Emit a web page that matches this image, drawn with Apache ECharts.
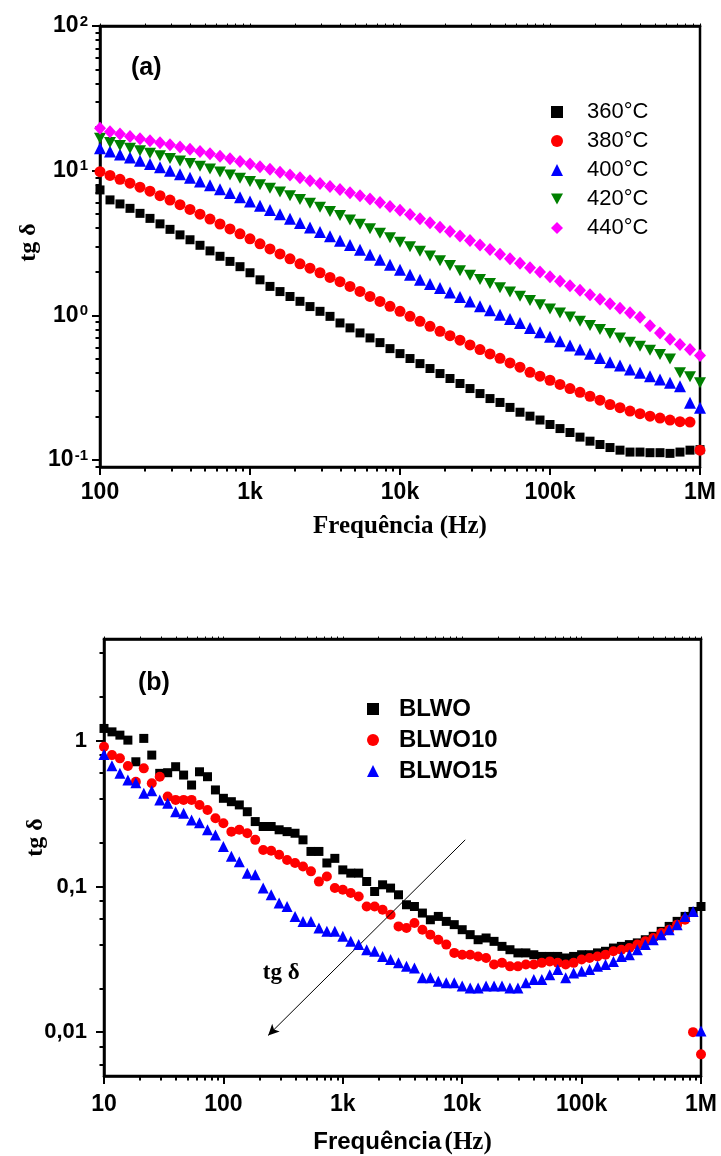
<!DOCTYPE html>
<html><head><meta charset="utf-8">
<script src="https://cdn.jsdelivr.net/npm/echarts@6/dist/echarts.min.js"></script>
<style>html,body{margin:0;padding:0;background:#fff}#c{width:721px;height:1156px}</style>
</head><body><div id="c"></div>
<script>
// ---------- DATA: panel (a) ----------
const freqA = [100, 116.6, 135.9, 158.5, 184.8, 215.4, 251.2, 292.9, 341.5, 398.1, 464.2, 541.2, 631.0, 735.6, 857.7,
  1000, 1166, 1359, 1585, 1848, 2154, 2512, 2929, 3415, 3981, 4642, 5412, 6310, 7356, 8577,
  10000, 11660, 13590, 15850, 18480, 21540, 25120, 29290, 34150, 39810, 46420, 54120, 63100, 73560, 85770,
  100000, 116600, 135900, 158500, 184800, 215400, 251200, 292900, 341500, 398100, 464200, 541200, 631000, 735600, 857700,
  1000000];
const t360 = [7.36, 6.28, 5.89, 5.49, 5.07, 4.68, 4.29, 3.93, 3.60, 3.33, 3.05, 2.79, 2.56, 2.36, 2.17, 1.97, 1.76, 1.585, 1.46, 1.35,
  1.25, 1.15, 1.066, 0.984, 0.886, 0.819, 0.756, 0.698, 0.648, 0.589, 0.544, 0.503, 0.464, 0.429, 0.396, 0.366, 0.338, 0.312, 0.288, 0.266,
  0.250, 0.231, 0.214, 0.201, 0.189, 0.176, 0.165, 0.155, 0.144, 0.135, 0.128, 0.122, 0.117, 0.1135, 0.1135, 0.1124, 0.1124, 0.1112, 0.1135, 0.117, 0.118];
const t380 = [9.84, 9.27, 8.72, 8.20, 7.69, 7.21, 6.72, 6.26, 5.82, 5.40, 5.00, 4.63, 4.28, 3.96, 3.66, 3.38, 3.12, 2.88, 2.66, 2.46,
  2.27, 2.12, 1.97, 1.83, 1.71, 1.585, 1.464, 1.352, 1.249, 1.154, 1.066, 0.984, 0.909, 0.840, 0.776, 0.724, 0.673, 0.625, 0.580, 0.541,
  0.505, 0.469, 0.438, 0.404, 0.380, 0.356, 0.333, 0.312, 0.294, 0.276, 0.259, 0.242, 0.230, 0.218, 0.209, 0.201, 0.195, 0.189, 0.184, 0.183, 0.117];
const t400 = [14.27, 13.57, 12.93, 12.33, 11.72, 11.12, 10.55, 10.0, 9.46, 8.93, 8.42, 7.93, 7.45, 7.00, 6.55, 6.13, 5.73, 5.35, 4.99, 4.65,
  4.34, 4.05, 3.77, 3.52, 3.28, 3.06, 2.84, 2.62, 2.42, 2.24, 2.07, 1.91, 1.76, 1.65, 1.545, 1.441, 1.339, 1.249, 1.154, 1.083,
  1.011, 0.944, 0.886, 0.819, 0.763, 0.710, 0.662, 0.618, 0.580, 0.542, 0.508, 0.474, 0.450, 0.422, 0.401, 0.380, 0.360, 0.342, 0.324, 0.249, 0.230];
const t420 = [16.73, 15.65, 14.92, 14.30, 13.72, 13.18, 12.67, 12.16, 11.67, 11.19, 10.72, 10.26, 9.80, 9.34, 8.88, 8.42, 7.98, 7.55, 7.13, 6.72,
  6.33, 5.95, 5.58, 5.23, 4.90, 4.57, 4.26, 3.97, 3.69, 3.44, 3.20, 2.98, 2.77, 2.57, 2.38, 2.21, 2.03, 1.89, 1.77, 1.66,
  1.55, 1.45, 1.357, 1.269, 1.185, 1.107, 1.039, 0.975, 0.912, 0.852, 0.797, 0.748, 0.698, 0.651, 0.611, 0.574, 0.536, 0.499, 0.401, 0.376, 0.342];
const t440 = [19.61, 18.58, 17.92, 17.22, 16.62, 16.08, 15.57, 15.09, 14.59, 14.09, 13.59, 13.08, 12.57, 12.08, 11.59, 11.12, 10.66, 10.21, 9.77, 9.34,
  8.93, 8.53, 8.15, 7.77, 7.41, 7.05, 6.71, 6.36, 6.02, 5.66, 5.32, 4.98, 4.66, 4.36, 4.07, 3.80, 3.53, 3.29, 3.06, 2.85,
  2.64, 2.46, 2.29, 2.13, 1.99, 1.85, 1.72, 1.60, 1.49, 1.39, 1.293, 1.204, 1.121, 1.044, 0.972, 0.849, 0.754, 0.685, 0.628, 0.580, 0.527];
const namesA = ['360°C', '380°C', '400°C', '420°C', '440°C'];
const xTickValsA = [100, 1000, 10000, 100000, 1000000];
const xTickLabelsA = ['100', '1k', '10k', '100k', '1M'];
const yTickValsA = [0.1, 1, 10, 100];
const yTickExpA = ['-1', '0', '1', '2'];

// ---------- DATA: panel (b) ----------
const freqB = [10, 11.66, 13.59, 15.85, 18.48, 21.54, 25.12, 29.29, 34.15, 39.81, 46.42, 54.12, 63.10, 73.56, 85.77,
  100, 116.6, 135.9, 158.5, 184.8, 215.4, 251.2, 292.9, 341.5, 398.1, 464.2, 541.2, 631.0, 735.6, 857.7,
  1000, 1166, 1359, 1585, 1848, 2154, 2512, 2929, 3415, 3981, 4642, 5412, 6310, 7356, 8577,
  10000, 11660, 13590, 15850, 18480, 21540, 25120, 29290, 34150, 39810, 46420, 54120, 63100, 73560, 85770,
  100000, 116600, 135900, 158500, 184800, 215400, 251200, 292900, 341500, 398100, 464200, 541200, 631000, 735600, 857700,
  1000000];
const blwo = [1.216, 1.152, 1.094, 1.011, 0.718, 1.039, 0.798, 0.598, 0.604, 0.664, 0.582, 0.497, 0.613, 0.567, 0.460, 0.403, 0.382, 0.363, 0.326, 0.279,
  0.258, 0.258, 0.245, 0.238, 0.232, 0.209, 0.174, 0.174, 0.145, 0.156, 0.130, 0.1235, 0.1235, 0.1082, 0.0924, 0.1027, 0.0975, 0.0877, 0.0749, 0.0729,
  0.0657, 0.0591, 0.0623, 0.0576, 0.0547, 0.0505, 0.0467, 0.0431, 0.0443, 0.0420, 0.0388, 0.0368, 0.0350, 0.0350, 0.0340, 0.0331, 0.0331, 0.0331, 0.0323, 0.0331,
  0.0340, 0.0340, 0.0350, 0.0359, 0.0378, 0.0388, 0.0399, 0.0410, 0.0431, 0.0455, 0.0492, 0.0532, 0.0576, 0.0623, 0.0674, 0.0729];
const blwo10 = [0.910, 0.798, 0.758, 0.671, 0.524, 0.647, 0.511, 0.567, 0.414, 0.393, 0.393, 0.393, 0.363, 0.335, 0.294, 0.272, 0.238, 0.245, 0.232, 0.209,
  0.178, 0.176, 0.165, 0.152, 0.145, 0.137, 0.127, 0.108, 0.117, 0.0975, 0.0949, 0.0901, 0.0854, 0.0729, 0.0729, 0.0692, 0.0640, 0.0532, 0.0519, 0.0562,
  0.0505, 0.0467, 0.0431, 0.0399, 0.0350, 0.0340, 0.0340, 0.0331, 0.0323, 0.0291, 0.0299, 0.0283, 0.0283, 0.0291, 0.0291, 0.0299, 0.0306, 0.0299, 0.0291, 0.0299,
  0.0315, 0.0323, 0.0331, 0.0340, 0.0359, 0.0368, 0.0378, 0.0399, 0.0420, 0.0443, 0.0480, 0.0505, 0.0547, 0.0591, 0.0100, 0.00704];
const blwo15 = [0.807, 0.674, 0.598, 0.538, 0.516, 0.436, 0.454, 0.393, 0.373, 0.326, 0.318, 0.286, 0.274, 0.245, 0.226, 0.188, 0.161, 0.148, 0.1235, 0.1202,
  0.0975, 0.0877, 0.0770, 0.0729, 0.0623, 0.0576, 0.0576, 0.0519, 0.0492, 0.0492, 0.0455, 0.0420, 0.0399, 0.0368, 0.0359, 0.0331, 0.0315, 0.0299, 0.0283, 0.0276,
  0.0236, 0.0236, 0.0224, 0.0218, 0.0218, 0.0207, 0.0201, 0.0201, 0.0207, 0.0207, 0.0207, 0.0201, 0.0201, 0.0218, 0.0230, 0.0230, 0.0248, 0.0269, 0.0236, 0.0255,
  0.0262, 0.0269, 0.0283, 0.0291, 0.0306, 0.0331, 0.0340, 0.0368, 0.0399, 0.0431, 0.0467, 0.0505, 0.0547, 0.0623, 0.0674, 0.0102];
const namesB = ['BLWO', 'BLWO10', 'BLWO15'];
const xTickValsB = [10, 100, 1000, 10000, 100000, 1000000];
const xTickLabelsB = ['10', '100', '1k', '10k', '100k', '1M'];
const yTickValsB = [0.01, 0.1, 1];
const yTickLabelsB = ['0,01', '0,1', '1'];

// annotation in panel (b): arrow and its label (data coordinates)
const arrowFrom = [10600, 0.209];
const arrowTo = [237, 0.0095];
const arrowTextPos = [305, 0.0256];
const arrowText = 'tg δ';

// ---------- helpers ----------
const SANS = '"Liberation Sans", Arial, sans-serif';
const SERIF = '"Liberation Serif", "Times New Roman", serif';
function minorTicks(dLo, dHi, mults, lo, hi) {
  const out = [];
  for (let d = dLo; d < dHi; d++) for (const m of mults) {
    const v = +(m * Math.pow(10, d)).toPrecision(6);
    if (v > lo && v < hi) out.push(v);
  }
  return out;
}
function idxOf(vals, v) {
  let best = 0, bd = Infinity;
  vals.forEach((t, i) => { const d = Math.abs(Math.log10(t) - Math.log10(v)); if (d < bd) { bd = d; best = i; } });
  return best;
}
const zip = (xs, ys) => xs.map((x, i) => [x, ys[i]]);

const yMinA = 0.0895, yMaxA = 100, xMinA = 100, xMaxA = 1000000;
const yMinB = 0.005, yMaxB = 5, xMinB = 10, xMaxB = 1000000;
const M9 = [2, 3, 4, 5, 6, 7, 8, 9];

function mainX(gi, min, max, vals, labels, name, nameGap, margin, nameStyle) {
  return {
    type: 'log', logBase: 10, gridIndex: gi, min, max, position: 'bottom',
    axisLine: { show: true, onZero: false, lineStyle: { color: '#000', width: 2.5 } },
    axisTick: { show: true, inside: false, length: 8, customValues: vals, lineStyle: { color: '#000', width: 2 } },
    axisLabel: { show: true, customValues: vals, margin, color: '#000', fontSize: 23, fontWeight: 'bold', fontFamily: SANS,
      formatter: v => labels[idxOf(vals, v)] },
    splitLine: { show: false }, minorTick: { show: false },
    name, nameLocation: 'middle', nameGap, nameMoveOverlap: false, nameTextStyle: nameStyle
  };
}
function minorAxis(gi, min, max, vals, pos, len, width) {
  return {
    type: 'log', logBase: 10, gridIndex: gi, min, max, position: pos,
    axisLine: { show: pos === 'top', onZero: false, lineStyle: { color: '#000', width: 2.5 } },
    axisTick: { show: true, inside: false, length: len, customValues: vals, lineStyle: { color: '#000', width } },
    axisLabel: { show: false }, splitLine: { show: false }, minorTick: { show: false }
  };
}

const minorXA = minorTicks(2, 6, M9, xMinA, xMaxA);
const minorYA = minorTicks(-2, 2, M9, yMinA, yMaxA);
const minorXB = minorTicks(1, 6, M9, xMinB, xMaxB);
const minorYB = minorTicks(-3, 1, [2, 4, 6, 8], yMinB, yMaxB);

const symA = ['rect', 'circle', 'triangle', 'path://M0,0 L10,0 L5,9 Z', 'diamond'];
const colA = ['#000000', '#ff0000', '#0000ff', '#008000', '#ff00ff'];
const sizeA = [9, 11, 12, [12, 11], [12, 13]];
const valsA = [t360, t380, t400, t420, t440];
const symB = ['rect', 'circle', 'triangle'];
const colB = ['#000000', '#ff0000', '#0000ff'];
const sizeB = [9, 10, 11];
const valsB = [blwo, blwo10, blwo15];

const series = [];
valsA.forEach((vals, i) => series.push({
  type: 'scatter', name: namesA[i], xAxisIndex: 0, yAxisIndex: 0,
  data: zip(freqA, vals), symbol: symA[i], symbolSize: sizeA[i],
  itemStyle: { color: colA[i], opacity: 1 }, z: 3 + i, silent: true
}));
valsB.forEach((vals, i) => {
  const s = {
    type: 'scatter', name: namesB[i], xAxisIndex: 3, yAxisIndex: 2,
    data: zip(freqB, vals), symbol: symB[i], symbolSize: sizeB[i],
    itemStyle: { color: colB[i], opacity: 1 }, z: 3 + i, silent: true
  };
  if (i === 2) {
    s.markLine = {
      silent: true, symbol: ['none', 'arrow'], symbolSize: [8, 11], animation: false,
      lineStyle: { color: '#000', width: 1, type: 'solid' }, label: { show: false },
      data: [[{ coord: arrowFrom }, { coord: arrowTo }]]
    };
    s.markPoint = {
      silent: true, symbol: 'rect', symbolSize: 0, animation: false,
      label: { show: true, position: 'inside', formatter: arrowText, color: '#000', fontSize: 23, fontWeight: 'bold', fontFamily: SERIF },
      data: [{ coord: arrowTextPos }]
    };
  }
  series.push(s);
});

const option = {
  animation: false,
  backgroundColor: '#ffffff',
  grid: [
    { left: 100, top: 26, width: 600, height: 441, show: true, borderColor: '#000', borderWidth: 2.5, backgroundColor: 'transparent', containLabel: false, outerBoundsMode: 'none' },
    { left: 104, top: 639, width: 597, height: 437, show: true, borderColor: '#000', borderWidth: 2.5, backgroundColor: 'transparent', containLabel: false, outerBoundsMode: 'none' }
  ],
  xAxis: [
    mainX(0, xMinA, xMaxA, xTickValsA, xTickLabelsA, 'Frequência (Hz)', 47, 14,
      { color: '#000', fontSize: 25, fontWeight: 'bold', fontFamily: SERIF }),
    minorAxis(0, xMinA, xMaxA, minorXA, 'bottom', 4.5, 2),
    minorAxis(0, xMinA, xMaxA, minorXA.concat(xTickValsA), 'top', 2.5, 1),
    mainX(1, xMinB, xMaxB, xTickValsB, xTickLabelsB, '{a|Frequência} {b|(Hz)}', 54, 17,
      { color: '#000', rich: {
        a: { color: '#000', fontSize: 24, fontWeight: 'bold', fontFamily: SANS },
        b: { color: '#000', fontSize: 25, fontWeight: 'bold', fontFamily: SERIF } } }),
    minorAxis(1, xMinB, xMaxB, minorXB, 'bottom', 4.5, 2),
    minorAxis(1, xMinB, xMaxB, minorXB.concat(xTickValsB), 'top', 2.5, 1)
  ],
  yAxis: [
    {
      type: 'log', logBase: 10, gridIndex: 0, min: yMinA, max: yMaxA, position: 'left',
      axisLine: { show: true, onZero: false, lineStyle: { color: '#000', width: 2.5 } },
      axisTick: { show: true, inside: false, length: 8, customValues: yTickValsA, lineStyle: { color: '#000', width: 2 } },
      axisLabel: { show: true, customValues: yTickValsA, margin: 12, color: '#000',
        formatter: v => '{b|10}{s|' + yTickExpA[idxOf(yTickValsA, v)] + '}',
        rich: {
          b: { color: '#000', fontSize: 23, fontWeight: 'bold', fontFamily: SANS, lineHeight: 24 },
          s: { color: '#000', fontSize: 15, fontWeight: 'bold', fontFamily: SANS, verticalAlign: 'top', lineHeight: 24, padding: [0, 0, 10, 1] }
        } },
      splitLine: { show: false }, minorTick: { show: false },
      name: 'tg δ', nameLocation: 'middle', nameGap: 59, nameRotate: 90, nameMoveOverlap: false,
      nameTextStyle: { color: '#000', fontSize: 24, fontWeight: 'bold', fontFamily: SERIF, padding: [0, 0, 0, 8] }
    },
    minorAxis(0, yMinA, yMaxA, minorYA, 'left', 4.5, 2),
    {
      type: 'log', logBase: 10, gridIndex: 1, min: yMinB, max: yMaxB, position: 'left',
      axisLine: { show: true, onZero: false, lineStyle: { color: '#000', width: 2.5 } },
      axisTick: { show: true, inside: false, length: 8, customValues: yTickValsB, lineStyle: { color: '#000', width: 2 } },
      axisLabel: { show: true, customValues: yTickValsB, margin: 17, color: '#000', fontSize: 22, fontWeight: 'bold', fontFamily: SANS,
        formatter: v => yTickLabelsB[idxOf(yTickValsB, v)] },
      splitLine: { show: false }, minorTick: { show: false },
      name: 'tg δ', nameLocation: 'middle', nameGap: 56, nameRotate: 90, nameMoveOverlap: false,
      nameTextStyle: { color: '#000', fontSize: 24, fontWeight: 'bold', fontFamily: SERIF, padding: [0, 0, 0, 40] }
    },
    minorAxis(1, yMinB, yMaxB, minorYB, 'left', 4.5, 2)
  ],
  legend: [
    {
      orient: 'vertical', left: 546, top: 96, itemWidth: 12, itemHeight: 12, itemGap: 7, selectedMode: false,
      data: namesA.map((n, i) => ({ name: n, icon: symA[i], itemStyle: { color: colA[i] } })),
      textStyle: { color: '#000', fontSize: 22, fontFamily: SANS, lineHeight: 22, padding: [0, 0, 0, 19] }
    },
    {
      orient: 'vertical', left: 362, top: 692, itemWidth: 12, itemHeight: 12, itemGap: 7, selectedMode: false,
      data: namesB.map((n, i) => ({ name: n, icon: symB[i], itemStyle: { color: colB[i] } })),
      textStyle: { color: '#000', fontSize: 24, fontWeight: 'bold', fontFamily: SANS, lineHeight: 24, padding: [0, 0, 0, 15] }
    }
  ],
  graphic: [
    { type: 'text', left: 131, top: 56, style: { text: '(a)', fill: '#000', font: 'bold 25px ' + SANS } },
    { type: 'text', left: 138, top: 671, style: { text: '(b)', fill: '#000', font: 'bold 25px ' + SANS } }
  ],
  series
};

const chart = echarts.init(document.getElementById('c'), null, { renderer: 'canvas' });
chart.setOption(option);
</script>
</body></html>
